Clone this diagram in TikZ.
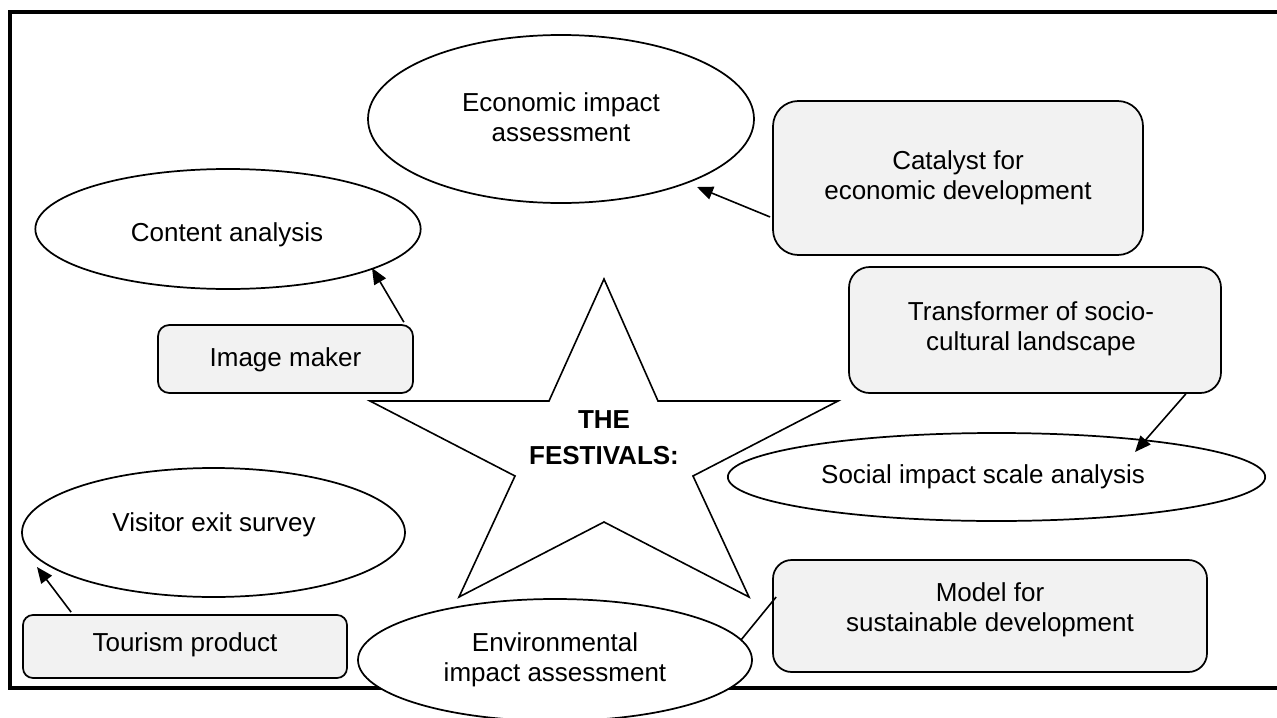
\documentclass[tikz,border=0pt]{standalone}
\usepackage{fontspec}
\setmainfont{Liberation Sans}
\usetikzlibrary{shapes.geometric,arrows.meta,calc}
\definecolor{boxgray}{HTML}{F2F2F2}
\begin{document}
\begin{tikzpicture}[x=0.75pt,y=-0.75pt,
  txt/.style={font=\fontsize{19.5}{22.2}\selectfont, align=center, inner sep=0pt},
  txtb/.style={font=\fontsize{19.5}{27}\selectfont\bfseries, align=center, inner sep=0pt},
  oval/.style={draw, ellipse, fill=white, line width=1.3pt, inner sep=0pt},
  rbox/.style={draw, rectangle, fill=boxgray, line width=1.3pt, inner sep=0pt},
  arr/.style={line width=1.2pt, -{Triangle[length=12pt,width=10pt]}},
  link/.style={line width=1.2pt},
  frameline/.style={line width=2.4pt},
  starline/.style={draw, fill=white, line width=1.2pt, line join=miter}]
\useasboundingbox (0,0) rectangle (1277,717);

% frame (open on the right)
\draw[frameline] (1295,12) -- (10,12) -- (10,688) -- (1295,688);

% star
\draw[starline] (604,279) -- (658,401) -- (838,401) -- (693,476) -- (749,597)
  -- (604,522) -- (459,597) -- (515,476) -- (370,401) -- (549,401) -- cycle;
\node[txtb] (fest) at (604,437.5) {THE\\FESTIVALS:};

% ellipses
\node[oval, minimum width=289.5pt, minimum height=126pt] (eco) at (561,119) {};
\node[txt] (ecot) at (561,117) {Economic impact\\assessment};

\node[oval, minimum width=289pt, minimum height=90pt] (con) at (228,229) {};
\node[txt] (cont) at (227,235) {Content analysis};

\node[oval, minimum width=403pt, minimum height=66pt] (soc) at (996.5,477) {};
\node[txt] (soct) at (983,477) {Social impact scale analysis};

\node[oval, minimum width=287.25pt, minimum height=96.75pt] (vis) at (213.5,532.5) {};
\node[txt] (vist) at (214,525) {Visitor exit survey};

\node[oval, minimum width=295.5pt, minimum height=91.5pt] (env) at (555,660) {};
\node[txt] (envt) at (555,660) {Environmental\\impact assessment};

% rounded boxes
\node[rbox, rounded corners=19pt, minimum width=277.5pt, minimum height=115.5pt] (cat) at (958,178) {};
\node[txt] (catt) at (958,178) {Catalyst for\\economic development};

\node[rbox, rounded corners=8.5pt, minimum width=191.25pt, minimum height=51pt] (img) at (285.5,359) {};
\node[txt] (imgt) at (285.5,360) {Image maker};

\node[rbox, rounded corners=15.5pt, minimum width=279pt, minimum height=94.5pt] (tra) at (1035,330) {};
\node[txt] (trat) at (1031,329) {Transformer of socio-\\cultural landscape};

\node[rbox, rounded corners=7.5pt, minimum width=243pt, minimum height=47.25pt] (tou) at (185,646.5) {};
\node[txt] (tout) at (185,645) {Tourism product};

\node[rbox, rounded corners=14pt, minimum width=325.5pt, minimum height=84pt] (mod) at (990,616) {};
\node[txt] (modt) at (990,610) {Model for\\sustainable development};

% connectors
\draw[arr] ($(cat.west)+(-2,39)$) -- ($(eco.center)+(136,68)$);
\draw[arr] ($(img.north east)+(-10,-2)$) -- ($(con.center)+(144,39)$);
\draw[arr] ($(tra.south east)+(-36,0)$) -- ($(soc.center)+(138.5,-25)$);
\draw[arr] ($(tou.north west)+(49,-2)$) -- ($(vis.center)+(-176.5,34.5)$);
\draw[link] ($(mod.west)+(4,-19)$) -- ($(env.center)+(186,-20)$);
\end{tikzpicture}
\end{document}
